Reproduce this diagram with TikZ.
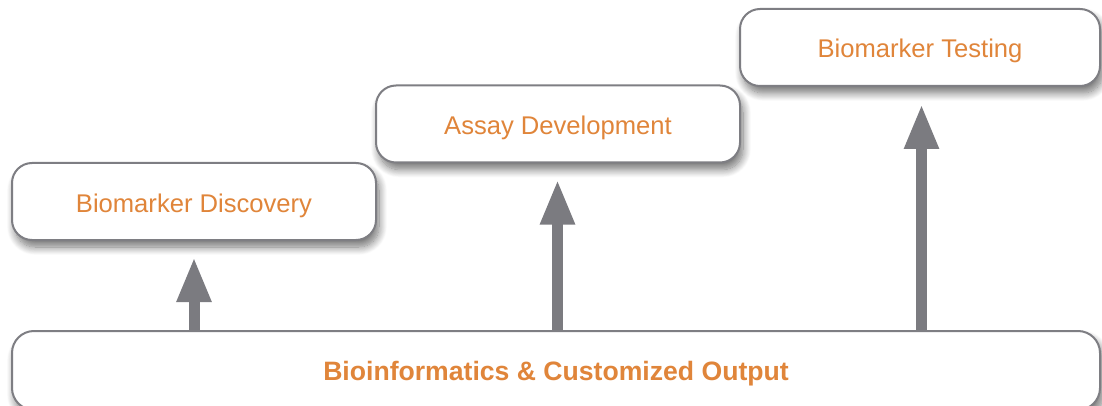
\documentclass[tikz,border=0pt]{standalone}
\usepackage{fontspec}
\setmainfont{Liberation Sans}
\usetikzlibrary{shadows.blur, arrows.meta}
\definecolor{boxline}{HTML}{7E7E83}
\definecolor{txt}{HTML}{E0853A}
\definecolor{arr}{HTML}{7B7B80}
\begin{document}
\begin{tikzpicture}[x=1pt,y=-1pt,
  stage/.style={draw=boxline, line width=2pt, fill=white, rounded corners=20pt,
    blur shadow={shadow xshift=3pt, shadow yshift=-7pt, shadow blur steps=12, shadow blur radius=8pt, shadow opacity=55},
    text=txt, font=\fontsize{25.6}{30}\selectfont, text height=21pt, text depth=0pt,
    minimum width=364pt, minimum height=77pt, inner sep=0pt},
  upar/.style={draw=arr, line width=11pt, -{Triangle[width=32pt,length=45pt]}, shorten >=16pt}
]
\useasboundingbox (0,0) rectangle (1102,406);
\node[stage, minimum width=360pt] (test) at (920,47.5) {Biomarker Testing};
\node[stage] (assay) at (558,124) {Assay Development};
\node[stage] (disc) at (194,201.5) {Biomarker Discovery};
\coordinate (a1) at (194,333);
\coordinate (a2) at (557.5,333);
\coordinate (a3) at (921.5,333);
\draw[upar] (a1) -- (a1 |- disc.south);
\draw[upar] (a2) -- (a2 |- assay.south);
\draw[upar, shorten >=17pt] (a3) -- (a3 |- test.south);
\node[stage, minimum width=1088pt, minimum height=79pt, rounded corners=22pt, text height=20pt,
  font=\bfseries\fontsize{26.6}{30}\selectfont] (bio) at (556,370.5) {Bioinformatics \& Customized Output};
\end{tikzpicture}
\end{document}
